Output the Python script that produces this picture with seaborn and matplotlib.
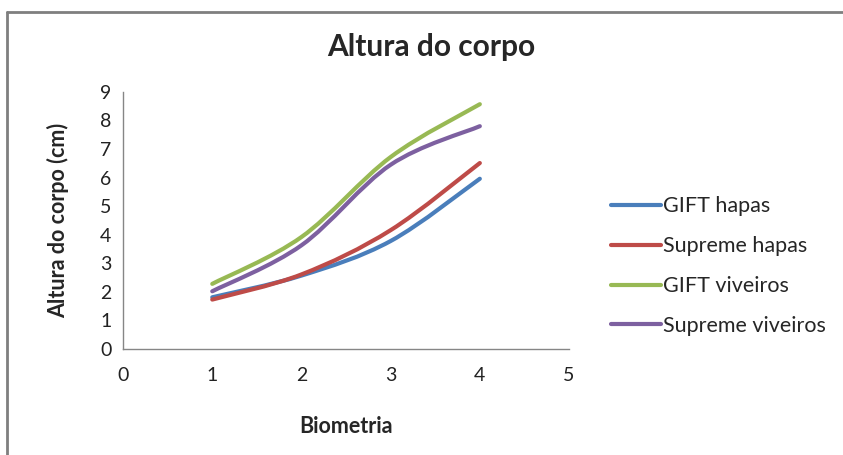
import matplotlib.pyplot as plt
import seaborn as sns
from matplotlib.path import Path
from matplotlib.patches import PathPatch
from matplotlib.lines import Line2D

# dados
biometria = [1, 2, 3, 4]
gift_hapas = [1.81, 2.57, 3.78, 5.96]
supreme_hapas = [1.73, 2.61, 4.16, 6.51]
gift_viveiros = [2.28, 3.92, 6.72, 8.57]
supreme_viveiros = [2.02, 3.63, 6.45, 7.80]

series = ['GIFT hapas', 'Supreme hapas', 'GIFT viveiros', 'Supreme viveiros']
valores = [gift_hapas, supreme_hapas, gift_viveiros, supreme_viveiros]
cores = ['#4A7EBB', '#BE4B48', '#98B954', '#7D60A0']

sns.set_style('white')
plt.rcParams['font.family'] = ['Lato', 'DejaVu Sans']


def curva_suave(xs, ys):
    # linha suavizada (estilo Excel) com curvas de Bezier
    pts = list(zip(xs, ys))
    verts = [pts[0]]
    codes = [Path.MOVETO]
    n = len(pts)
    for i in range(n - 1):
        p0 = pts[i - 1] if i > 0 else pts[i]
        p1 = pts[i]
        p2 = pts[i + 1]
        p3 = pts[i + 2] if i + 2 < n else pts[i + 1]
        c1 = (p1[0] + (p2[0] - p0[0]) / 6, p1[1] + (p2[1] - p0[1]) / 6)
        c2 = (p2[0] - (p3[0] - p1[0]) / 6, p2[1] - (p3[1] - p1[1]) / 6)
        verts += [c1, c2, p2]
        codes += [Path.CURVE4] * 3
    return Path(verts, codes)


fig = plt.figure(figsize=(8.43, 4.55), dpi=100)
ax = fig.add_axes([0.146, 0.233, 0.529, 0.565])

for nome, ys, cor in zip(series, valores, cores):
    ax.add_patch(PathPatch(curva_suave(biometria, ys), facecolor='none',
                           edgecolor=cor, lw=3, capstyle='round'))

ax.set_xlim(0, 5)
ax.set_ylim(0, 9)
ax.set_xticks(range(0, 6))
ax.set_yticks(range(0, 10))
for s in ['top', 'right']:
    ax.spines[s].set_visible(False)
for s in ['left', 'bottom']:
    ax.spines[s].set_color('#868686')
    ax.spines[s].set_linewidth(1)
ax.tick_params(axis='both', colors='#868686', labelcolor='#222222', labelsize=14,
               length=5, width=1, direction='out')
ax.tick_params(axis='x', pad=8)

fig.text(0.512, 0.897, 'Altura do corpo', ha='center', va='center',
         fontsize=21.5, fontweight='bold')
fig.text(0.41, 0.063, 'Biometria', ha='center', va='center',
         fontsize=15.5, fontweight='bold')
fig.text(0.069, 0.515, 'Altura do corpo (cm)', ha='center', va='center',
         rotation=90, fontsize=15.5, fontweight='bold')

handles = [Line2D([0], [0], color=c, lw=3) for c in cores]
fig.legend(handles, series, loc='center left', bbox_to_anchor=(0.725, 0.415),
           frameon=False, fontsize=15.5, handlelength=2.3, handletextpad=0.1,
           labelspacing=0.92, borderaxespad=0, borderpad=0)

# moldura do grafico
fig.add_artist(Line2D([0.008, 0.008], [0, 0.974], color='#7f7f7f', lw=2))
fig.add_artist(Line2D([0.008, 1], [0.974, 0.974], color='#7f7f7f', lw=2))

plt.savefig('out.png', dpi=100)
